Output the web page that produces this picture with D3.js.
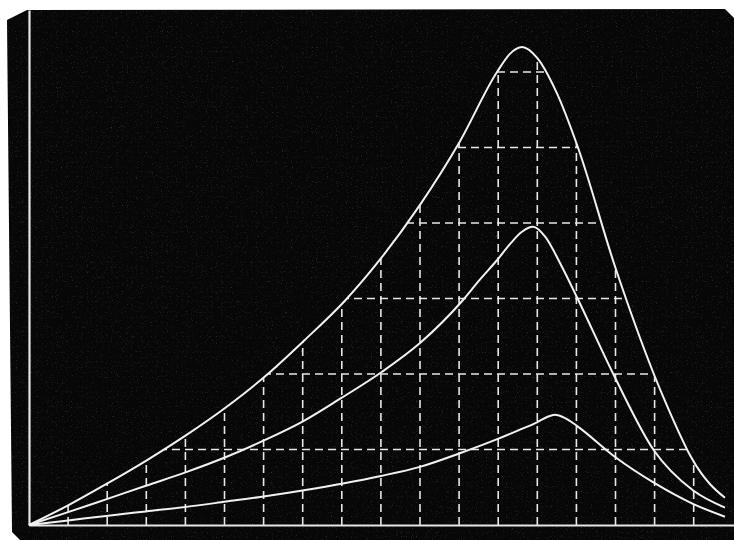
<!DOCTYPE html>
<html>
<head>
<meta charset="utf-8">
<script src="https://cdn.jsdelivr.net/npm/d3@7"></script>
<style>
  html, body { margin: 0; padding: 0; background: #fff; }
  svg { display: block; }
</style>
</head>
<body>
<div id="chart"></div>
<script>
// 1. data (x in grid columns, y in grid rows)
var outerCurve = [
  [0, 0], [1.0, 0.26], [1.97, 0.54], [2.99, 0.85], [4.02, 1.19], [5.04, 1.56],
  [6.04, 1.97], [7.03, 2.44], [8.08, 2.97], [9.03, 3.55], [10.0, 4.24],
  [11.02, 5.08], [11.97, 6.0], [12.3, 6.24], [12.61, 6.33], [12.99, 6.19],
  [13.5, 5.72], [14.02, 5.03], [14.99, 3.42], [15.98, 2.0], [16.3, 1.6],
  [16.6, 1.25], [16.91, 0.92], [17.2, 0.68], [17.42, 0.54], [17.8, 0.36]
];
var middleCurve = [
  [0, 0], [1.0, 0.17], [1.97, 0.34], [2.99, 0.52], [4.02, 0.70], [5.04, 0.90],
  [6.01, 1.12], [7.03, 1.38], [7.95, 1.67], [9.03, 2.03], [10.0, 2.41],
  [11.1, 2.98], [11.53, 3.25], [11.99, 3.52], [12.3, 3.72], [12.6, 3.88],
  [12.89, 3.95], [13.2, 3.82], [13.6, 3.45], [14.02, 3.01], [14.99, 1.95],
  [15.98, 0.99], [16.98, 0.46], [17.8, 0.23]
];
var innerCurve = [
  [0, 0], [1.0, 0.06], [1.97, 0.12], [2.99, 0.18], [4.02, 0.24], [5.04, 0.31],
  [6.04, 0.38], [7.03, 0.46], [8.03, 0.55], [9.0, 0.65], [10.0, 0.77],
  [11.02, 0.95], [11.99, 1.14], [12.5, 1.25], [12.99, 1.36], [13.25, 1.43],
  [13.45, 1.46], [13.7, 1.42], [14.02, 1.31], [14.99, 0.90], [15.98, 0.56],
  [16.98, 0.28], [17.8, 0.11]
];
var gridColumns = [1, 2, 3, 4, 5, 6, 7, 8, 9, 10, 11, 12, 13, 14, 15, 16, 17];
var gridRows = [1, 2, 3, 4, 5, 6];

var width = 734;
var height = 540;
var origin = { "x": 29, "y": 525 };

// 2. svg + dark board
var svg = d3.select("#chart").append("svg").attr("width", width).attr("height", height);

var defs = svg.append("defs");

var noise = defs.append("filter").attr("id", "grain")
  .attr("x", 0).attr("y", 0).attr("width", "100%").attr("height", "100%");
noise.append("feTurbulence")
  .attr("type", "fractalNoise")
  .attr("baseFrequency", 1.2)
  .attr("numOctaves", 1)
  .attr("seed", 3)
  .attr("result", "t");
noise.append("feColorMatrix")
  .attr("in", "t")
  .attr("type", "matrix")
  .attr("values", "0 0 0 0 1  0 0 0 0 1  0 0 0 0 1  0 0 0 2.2 -1.35")
  .attr("result", "dots");
noise.append("feComposite").attr("in", "dots").attr("in2", "SourceGraphic").attr("operator", "in");

var board = [[7, 20], [27, 10], [725, 9], [734, 18], [734, 540], [20, 540], [12, 532]];
svg.append("polygon")
  .attr("points", board.map(function(p) { return p.join(","); }).join(" "))
  .attr("fill", "#070707");
svg.append("polygon")
  .attr("points", board.map(function(p) { return p.join(","); }).join(" "))
  .attr("fill", "#000")
  .attr("filter", "url(#grain)")
  .attr("opacity", 0.35);

// 3. scales
var xScale = d3.scaleLinear().domain([0, 18]).range([origin.x, origin.x + 18 * 39.1]);
var yScale = d3.scaleLinear().domain([0, 6]).range([origin.y, 72]);

var line = d3.line()
  .x(function(d) { return xScale(d[0]); })
  .y(function(d) { return yScale(d[1]); })
  .curve(d3.curveMonotoneX);

var area = d3.area()
  .x(function(d) { return xScale(d[0]); })
  .y0(yScale(0))
  .y1(function(d) { return yScale(d[1]); })
  .curve(d3.curveMonotoneX);

// 4. dashed grid under the outer curve
defs.append("clipPath").attr("id", "under")
  .append("path")
  .attr("d", area(outerCurve));

var grid = svg.append("g").attr("clip-path", "url(#under)")
  .attr("stroke", "#e8e8e8")
  .attr("stroke-width", 1.6)
  .attr("stroke-dasharray", "8,5");

grid.selectAll("line.v")
  .data(gridColumns)
  .enter()
  .append("line")
  .attr("class", "v")
  .attr("x1", function(d) { return xScale(d); })
  .attr("x2", function(d) { return xScale(d); })
  .attr("y1", yScale(0))
  .attr("y2", yScale(7));

grid.selectAll("line.h")
  .data(gridRows)
  .enter()
  .append("line")
  .attr("class", "h")
  .attr("x1", xScale(0))
  .attr("x2", xScale(18))
  .attr("y1", function(d) { return yScale(d); })
  .attr("y2", function(d) { return yScale(d); });

// 5. axes
var axisx = d3.axisBottom(xScale.copy().range([origin.x, width])).ticks(0).tickSize(0).tickSizeOuter(0);
var axisy = d3.axisLeft(yScale.copy().range([origin.y, 10])).ticks(0).tickSize(0).tickSizeOuter(0);

svg.append("g")
  .attr("transform", "translate(0," + origin.y + ")")
  .call(axisx)
  .select(".domain")
  .attr("stroke", "#e6e6e6")
  .attr("stroke-width", 2.2);

svg.append("g")
  .attr("transform", "translate(" + origin.x + ",0)")
  .call(axisy)
  .select(".domain")
  .attr("stroke", "#e6e6e6")
  .attr("stroke-width", 2.2);

// 6. curves
svg.append("g")
  .selectAll("path")
  .data([outerCurve, middleCurve, innerCurve])
  .enter()
  .append("path")
  .attr("d", line)
  .attr("fill", "none")
  .attr("stroke", "#f2f2f2")
  .attr("stroke-width", 2)
  .attr("stroke-linejoin", "round");
</script>
</body>
</html>
